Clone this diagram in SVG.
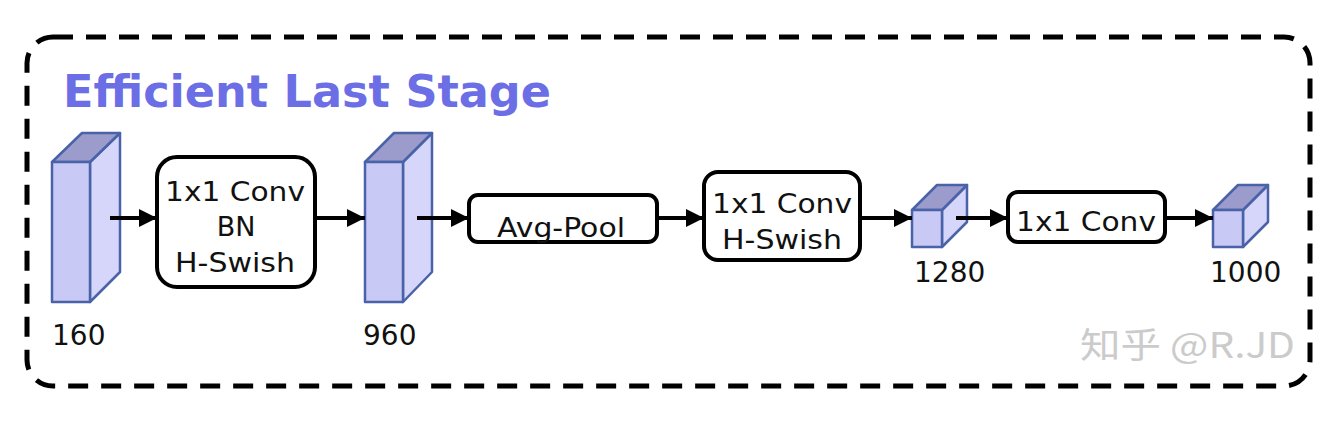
<svg xmlns="http://www.w3.org/2000/svg" width="1332" height="422" viewBox="0 0 1332 422">
<defs>
<marker id="ah" viewBox="0 0 10 10" refX="10" refY="5" markerWidth="4.5" markerHeight="4.5" markerUnits="strokeWidth" orient="auto">
<path d="M0,0 L10,5 L0,10 Z" fill="#000"/>
</marker>
<style>
.lbl{font-family:"DejaVu Sans",sans-serif;font-size:28px;fill:#111}
.bt{font-family:"DejaVu Sans",sans-serif;font-size:27px;fill:#111}
.box{fill:#fff;stroke:#000;stroke-width:4}
.front{fill:#c9c9f5;stroke:#4a62a8;stroke-width:2.5;stroke-linejoin:round}
.side{fill:#d6d6fa;stroke:#4a62a8;stroke-width:2.5;stroke-linejoin:round}
.top{fill:#9c9ccc;stroke:#4a62a8;stroke-width:2.5;stroke-linejoin:round}
.conn{stroke:#000;stroke-width:4;fill:none;marker-end:url(#ah)}
</style>
</defs>
<rect x="27" y="37" width="1283" height="349" rx="26" fill="none" stroke="#000" stroke-width="5" stroke-dasharray="20 13"/>
<text x="63" y="107" font-family="DejaVu Sans, sans-serif" font-weight="bold" font-size="44" fill="#6c6ee6" textLength="488" lengthAdjust="spacingAndGlyphs">Efficient Last Stage</text>

<g id="cube160">
<polygon class="side" points="90,162 120,133 120,272 90,302"/>
<polygon class="top" points="52,162 82,133 120,133 90,162"/>
<rect class="front" x="52" y="162" width="38" height="140"/>
<text class="lbl" x="52" y="345">160</text>
</g>
<g id="box1">
<rect class="box" x="157" y="157" width="158" height="130" rx="20"/>
<text class="bt" x="165" y="201" textLength="140" lengthAdjust="spacingAndGlyphs">1x1 Conv</text>
<text class="bt" x="236" y="236" text-anchor="middle">BN</text>
<text class="bt" x="175" y="272" textLength="120" lengthAdjust="spacingAndGlyphs">H-Swish</text>
</g>
<g id="cube960">
<polygon class="side" points="403,162 432,133 432,272 403,302"/>
<polygon class="top" points="365,162 394,133 432,133 403,162"/>
<rect class="front" x="365" y="162" width="38" height="140"/>
<text class="lbl" x="363" y="345">960</text>
</g>
<g id="avgpool">
<rect class="box" x="469" y="195" width="188" height="47" rx="9"/>
<text class="bt" x="497" y="237" textLength="128" lengthAdjust="spacingAndGlyphs">Avg-Pool</text>
</g>
<g id="box3">
<rect class="box" x="704" y="172" width="156" height="88" rx="14"/>
<text class="bt" x="712" y="213" textLength="140" lengthAdjust="spacingAndGlyphs">1x1 Conv</text>
<text class="bt" x="722" y="249" textLength="120" lengthAdjust="spacingAndGlyphs">H-Swish</text>
</g>
<g id="cube1280">
<polygon class="side" points="942,210 967,185 967,222 942,247"/>
<polygon class="top" points="912,210 937,185 967,185 942,210"/>
<rect class="front" x="912" y="210" width="30" height="37"/>
<text class="lbl" x="914" y="282">1280</text>
</g>
<g id="box4">
<rect class="box" x="1008" y="192" width="157" height="50" rx="10"/>
<text class="bt" x="1016" y="231" textLength="140" lengthAdjust="spacingAndGlyphs">1x1 Conv</text>
</g>
<g id="cube1000">
<polygon class="side" points="1243,210 1268,185 1268,222 1243,247"/>
<polygon class="top" points="1213,210 1238,185 1268,185 1243,210"/>
<rect class="front" x="1213" y="210" width="30" height="37"/>
<text class="lbl" x="1210" y="282">1000</text>
</g>
<g id="connectors">
<line class="conn" x1="110" y1="218" x2="157" y2="218"/>
<line class="conn" x1="315" y1="218" x2="365" y2="218"/>
<line class="conn" x1="417" y1="218" x2="469" y2="218"/>
<line class="conn" x1="657" y1="218" x2="704" y2="218"/>
<line class="conn" x1="860" y1="218" x2="912" y2="218"/>
<line class="conn" x1="956" y1="218" x2="1008" y2="218"/>
<line class="conn" x1="1165" y1="218" x2="1213" y2="218"/>
</g>
<text x="1080" y="358" font-family="Noto Sans CJK SC, sans-serif" font-size="35" fill="#cbcbcb" textLength="215" lengthAdjust="spacingAndGlyphs">知乎 @R.JD</text>
</svg>
